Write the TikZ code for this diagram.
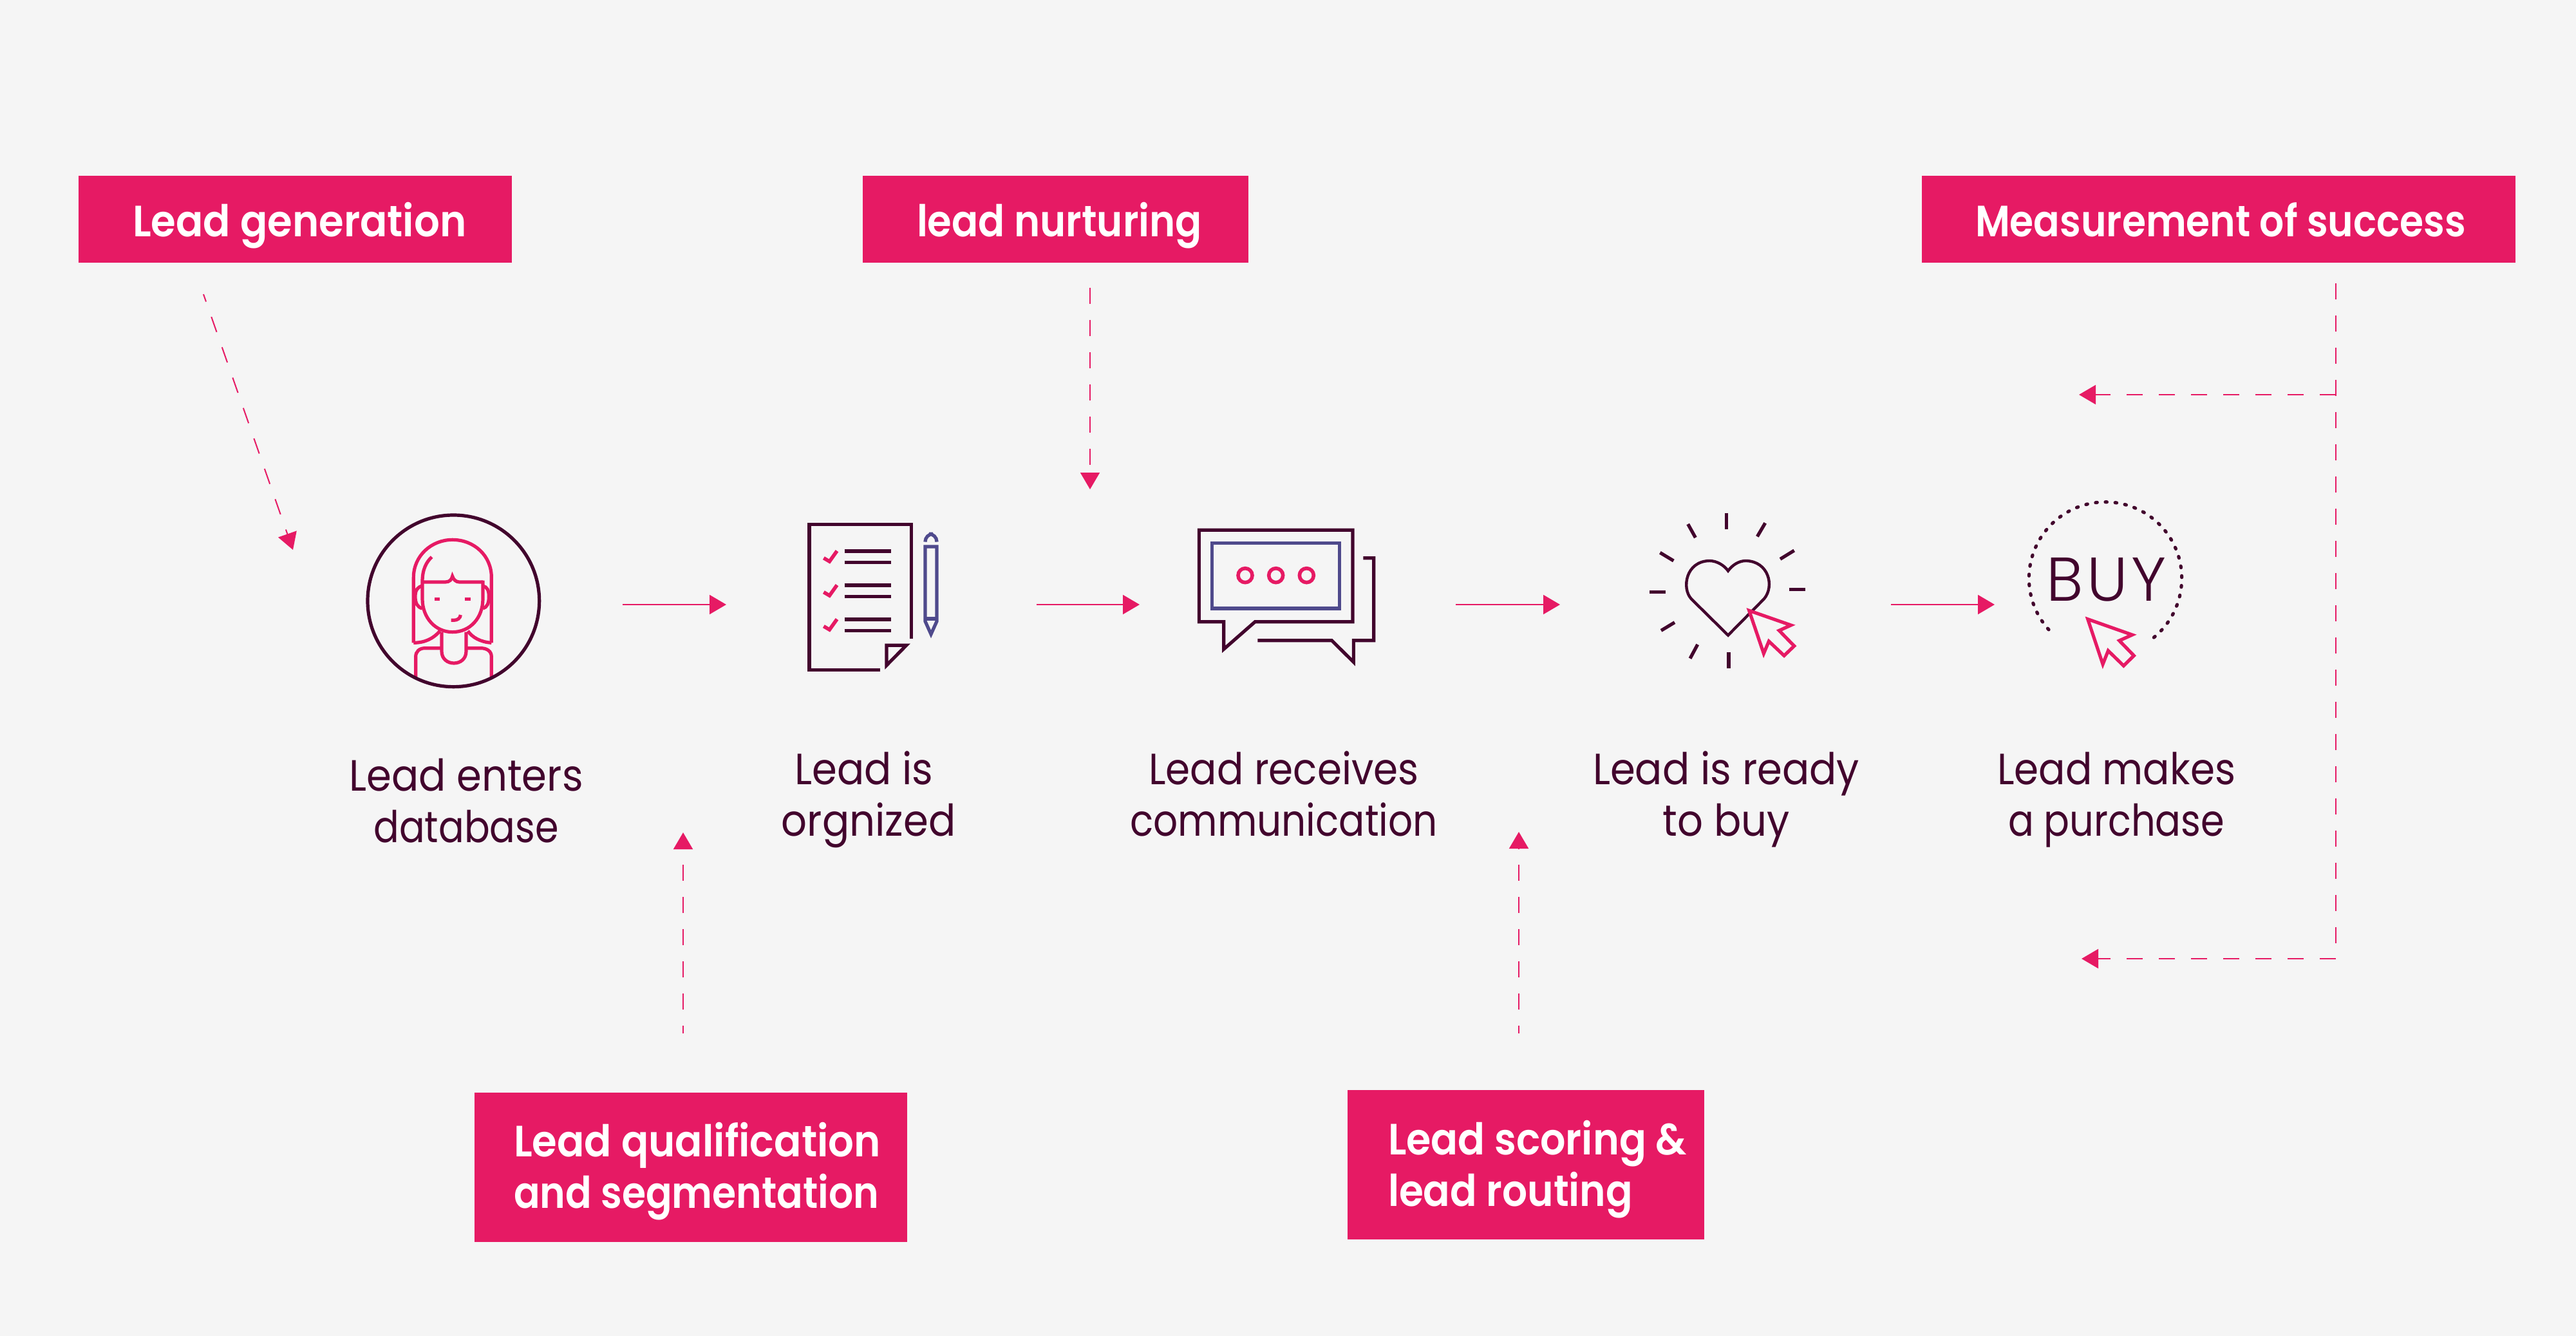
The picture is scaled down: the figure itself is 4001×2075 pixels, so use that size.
\documentclass[tikz,border=0pt]{standalone}
\usepackage{fontspec}
\usepackage{graphicx}
\usetikzlibrary{arrows.meta}
\newfontfamily\bodyfont[FakeStretch=0.92]{Poppins}
\newfontfamily\labelfont[FakeStretch=0.92]{Poppins SemiBold}
\newfontfamily\buyfont[LetterSpace=6]{Poppins Light}
\definecolor{pagebg}{HTML}{F5F5F5}
\definecolor{hotpink}{HTML}{E61A64}
\definecolor{plum}{HTML}{42042D}
\definecolor{indigo}{HTML}{4F4A8C}
\newcommand{\sx}[2]{\scalebox{#1}[1]{#2}}
\newcommand{\twocen}[2]{\vbox{\baselineskip=20pt\lineskiplimit=-20pt\halign{\hfil##\hfil\cr#1\cr#2\cr}}}
\newcommand{\twoleft}[2]{\vbox{\baselineskip=20pt\lineskiplimit=-20pt\halign{##\hfil\cr#1\cr#2\cr}}}
% W H dx baseline-from-top text, all in picture pixels
\newcommand{\boxtxt}[5]{\hbox to \dimexpr#1pt/4\relax{\vrule width 0pt height \dimexpr#2pt/4\relax depth 0pt\hskip\dimexpr#3pt/4\relax\raise\dimexpr(#2pt-#4pt)/4\relax\hbox{#5}\hss}}
\tikzset{
  labelbox/.style={fill=hotpink,text=white,inner sep=0pt,outer sep=0pt,anchor=north west,font=\labelfont\fontsize{17}{20}\selectfont},
  steptext/.style={text=plum,inner sep=0pt,anchor=base,font=\bodyfont\fontsize{17}{20}\selectfont},
  tipstyle/.style={-{Triangle[length=6.5pt,width=7.5pt]}},
  flow/.style={draw=hotpink,line width=0.5pt,tipstyle},
  dashflow/.style={draw=hotpink,line width=0.5pt,tipstyle,dash pattern=on 6.25pt off 6.25pt},
  plain/.style={draw=hotpink,line width=0.5pt,dash pattern=on 6.25pt off 6.25pt},
  plumline/.style={draw=plum,line width=1.3pt},
  pinkline/.style={draw=hotpink,line width=1.3pt},
  indigoline/.style={draw=indigo,line width=1.3pt},
}
\begin{document}
\begin{tikzpicture}[x=0.25pt,y=-0.25pt]
\fill[pagebg] (0,0) rectangle (4001,2075);
\useasboundingbox (0,0) rectangle (4001,2075);

% label boxes
\node[labelbox] (gen) at (122,273) {\boxtxt{673}{135}{84}{95}{Lead generation}};
\node[labelbox] (nur) at (1340,273) {\boxtxt{599}{135}{84}{95}{\sx{0.972}{lead nurturing}}};
\node[labelbox] (mes) at (2985,273) {\boxtxt{922}{135}{83}{95}{\sx{0.958}{Measurement of success}}};
\node[labelbox] (qua) at (737,1697) {\boxtxt{672}{232}{61}{179}{\twoleft{Lead qualification}{\sx{0.96}{and segmentation}}}};
\node[labelbox] (sco) at (2093,1693) {\boxtxt{554}{232}{63}{180}{\twoleft{\sx{0.99}{Lead scoring \&}}{\sx{0.98}{lead routing}}}};

% step captions
\node[steptext] (t1) at (724,1308) {\twocen{Lead enters}{\sx{0.94}{database}}};
\node[steptext] (t2) at (1349,1298) {\twocen{Lead is\kern3.5pt}{orgnized}};
\node[steptext] (t3) at (1994,1298) {\twocen{\sx{0.98}{Lead receives}}{\sx{0.954}{communication}}};
\node[steptext] (t4) at (2681,1298) {\twocen{Lead is ready}{to buy}};
\node[steptext] (t5) at (3287,1298) {\twocen{\sx{0.98}{Lead makes}}{\sx{0.943}{a purchase}}};

% connector ends
\coordinate (s1a) at (967,939);  \coordinate (s1b) at (1128,939);
\coordinate (s2a) at (1610,939); \coordinate (s2b) at (1770,939);
\coordinate (s3a) at (2261,939); \coordinate (s3b) at (2423,939);
\coordinate (s4a) at (2937,939); \coordinate (s4b) at (3098,939);
\coordinate (g1) at (316,457);   \coordinate (g2) at (455,854);
\coordinate (n1) at (1693,447);  \coordinate (n2) at (1693,760);
\coordinate (q1) at (1061,1605); \coordinate (q2) at (1061,1293);
\coordinate (r1) at (2359,1605); \coordinate (r2) at (2359,1292);
\coordinate (m1) at (3628,440);  \coordinate (m2) at (3628,1465);
\coordinate (m3) at (3628,613);  \coordinate (m4) at (3229,613);
\coordinate (m5) at (3628,1489); \coordinate (m6) at (3233,1489);

% solid flow
\draw[flow] (s1a) -- (s1b);
\draw[flow] (s2a) -- (s2b);
\draw[flow] (s3a) -- (s3b);
\draw[flow] (s4a) -- (s4b);

% dashed connectors
\draw[dashflow,dash phase=3.2pt] (g1) -- (g2);
\draw[dashflow] (n1) -- (n2);
\draw[dashflow,dash phase=3.2pt] (q1) -- (q2);
\draw[dashflow,dash phase=3.2pt] (r1) -- (r2);
\draw[plain] (m1) -- (m2);
\draw[dashflow] (m3) -- (m4);
\draw[dashflow] (m5) -- (m6);

% icon 1: person in a circle
\begin{scope}[shift={(520,760)},scale=1/3]
  \draw[pinkline,line join=miter] (367,715) -- (367,410) .. controls (367,310) and (450,235) .. (548,235) .. controls (650,235) and (730,310) .. (730,410) -- (730,715);
  \draw[pinkline] (367,715) .. controls (420,715) and (460,695) .. (490,660);
  \draw[pinkline] (730,715) .. controls (680,712) and (640,690) .. (620,660);
  \draw[pinkline] (452,315) .. controls (425,340) and (408,375) .. (408,430) -- (408,510) .. controls (408,600) and (470,665) .. (548,665) .. controls (630,665) and (690,600) .. (690,510) -- (690,425);
  \draw[pinkline] (408,432) -- (515,432) .. controls (535,432) and (545,420) .. (548,405) .. controls (552,420) and (565,432) .. (580,432) -- (690,432);
  \draw[pinkline] (408,450) .. controls (385,455) and (375,470) .. (375,500) .. controls (375,530) and (385,550) .. (408,555);
  \draw[pinkline] (690,450) .. controls (710,455) and (718,470) .. (718,500) .. controls (718,530) and (710,550) .. (690,555);
  \draw[pinkline] (465,512) -- (490,512) (605,512) -- (632,512);
  \draw[pinkline] (542,610) -- (555,610) .. controls (572,610) and (585,600) .. (586,585);
  \draw[pinkline] (498,665) -- (498,755) .. controls (498,790) and (525,810) .. (555,810) .. controls (585,810) and (612,790) .. (612,755) -- (612,665);
  \draw[pinkline] (377,875) -- (377,780) .. controls (377,755) and (395,740) .. (420,740) -- (498,740);
  \draw[pinkline] (612,740) -- (680,740) .. controls (710,740) and (730,755) .. (730,780) -- (730,875);
  \draw[plumline] (553,520) circle [radius=400];
\end{scope}

% icon 2: checklist and pencil
\begin{scope}[shift={(1220,790)},scale=1/3]
  \draw[plumline,line join=miter] (442,752) -- (111,752) -- (111,73) -- (587,73) -- (587,607);
  \draw[plumline,line join=miter] (471,637) -- (563,637) -- (471,730) -- cycle;
  \foreach \yy in {198,251,357,410,516,569} \draw[plumline] (275,\yy) -- (493,\yy);
  \foreach \dy in {0,159,318} \draw[pinkline,line width=1.4pt] (178,230+\dy) -- (205,246+\dy) -- (240,197+\dy);
  \draw[indigoline,line join=miter] (651,177) -- (705,177) -- (705,525) -- (678,585) -- (651,525) -- cycle;
  \draw[indigoline] (651,513) -- (705,513);
  \draw[indigoline,rounded corners=3pt] (651,150) -- (651,118) -- (705,118) -- (705,150);
\end{scope}

% icon 3: speech bubbles
\begin{scope}[shift={(1830,790)},scale=1/3]
  \draw[plumline,line join=miter] (97,100) -- (813,100) -- (813,527) -- (358,527) -- (212,655) -- (212,527) -- (97,527) -- cycle;
  \draw[indigoline] (158,161) rectangle (751,465);
  \foreach \xx in {312,455,598} \draw[pinkline,line width=1.4pt] (\xx,311) circle [radius=33];
  \draw[plumline,line join=miter] (862,230) -- (911,230) -- (911,614) -- (817,614) -- (817,715) -- (715,614) -- (370,614);
\end{scope}

% icon 4: heart with rays and cursor
\begin{scope}[shift={(2530,770)},scale=1/3]
  \foreach \ax/\ay/\bx/\by in {454/80/454/155,275/132/310/195,145/265/208/303,97/448/172/448,150/628/213/590,285/758/320/693,465/730/465/804,770/255/705/295,635/127/598/190,746/437/821/437}
    \draw[plumline] (\ax,\ay) -- (\bx,\by);
  \draw[plumline,line width=1.1pt,line join=miter] (462,650) -- (290,480) .. controls (245,430) and (265,305) .. (375,303) .. controls (410,303) and (445,325) .. (462,350) .. controls (480,325) and (510,303) .. (545,303) .. controls (650,305) and (680,420) .. (630,480) -- cycle;
  \draw[pinkline,fill=pagebg,line join=miter] (560,535) -- (755,603) -- (700,628) -- (770,700) -- (723,745) -- (652,678) -- (628,735) -- cycle;
\end{scope}

% icon 5: BUY with dotted ring and cursor
\begin{scope}[shift={(3120,760)},scale=1/3]
  \draw[draw=plum,line width=1.3pt,line cap=round,dash pattern=on 0.6pt off 3.2pt]
    ([shift={(50.6:356)}]450,415) arc[start angle=50.6,end angle=-227.6,radius=356];
  \node[text=plum,inner sep=0pt,anchor=base,font=\buyfont\fontsize{24}{24}\selectfont] (buy) at (455,520) {BUY};
  \draw[pinkline,line join=miter] (368,605) -- (575,678) -- (515,705) -- (583,775) -- (535,822) -- (463,752) -- (438,815) -- cycle;
\end{scope}
\end{tikzpicture}
\end{document}
